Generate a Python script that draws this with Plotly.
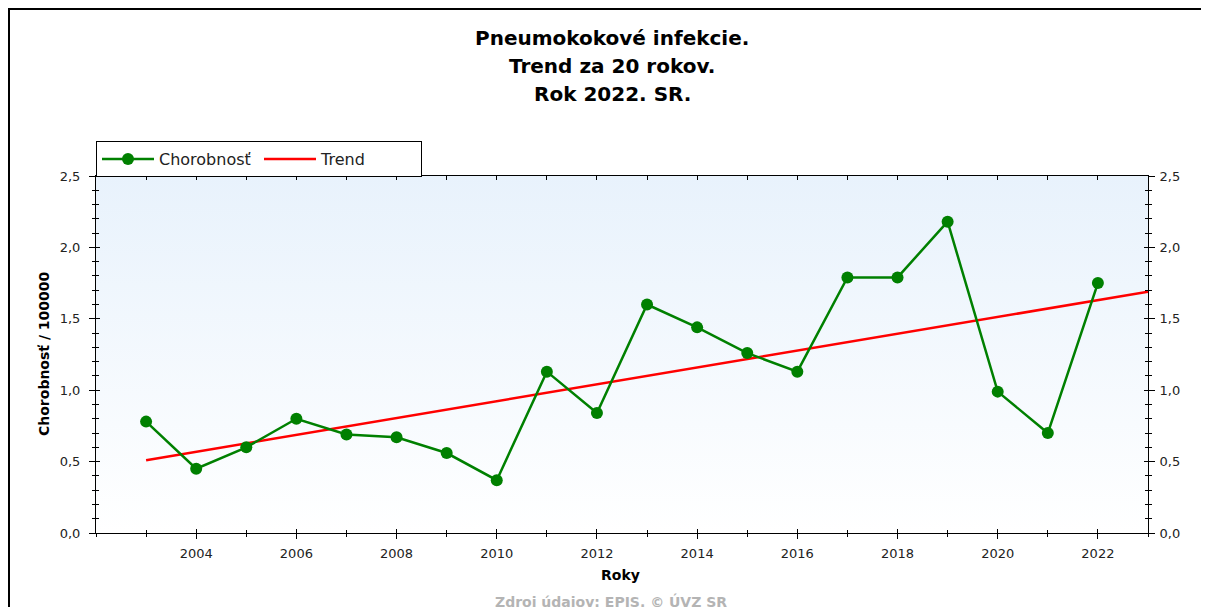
import plotly.graph_objects as go

# ---- data ----
years = [2003, 2004, 2005, 2006, 2007, 2008, 2009, 2010, 2011, 2012,
         2013, 2014, 2015, 2016, 2017, 2018, 2019, 2020, 2021, 2022]
morbidity = [0.78, 0.45, 0.60, 0.80, 0.69, 0.67, 0.56, 0.37, 1.13, 0.84,
             1.60, 1.44, 1.26, 1.13, 1.79, 1.79, 2.18, 0.99, 0.70, 1.75]
trend_years = [2003, 2023]
trend_values = [0.51, 1.69]
x_tick_labels = [2004, 2006, 2008, 2010, 2012, 2014, 2016, 2018, 2020, 2022]
x_range = [2002, 2023]
y_range = [0, 2.5]

series_name = "Chorobnosť"
trend_name = "Trend"
title_lines = ["Pneumokokové infekcie.", "Trend za 20 rokov.", "Rok 2022. SR."]
y_title = "Chorobnosť / 100000"
x_title = "Roky"
source_text = "Zdroj údajov: EPIS. © ÚVZ SR"

FONT = "DejaVu Sans, Liberation Sans, Arial, sans-serif"
OFF = 8  # page body margin of the html page
W, H = 1209 - OFF, 607 - OFF
L, R, T, B = 96 - OFF, 1209 - 1148, 176 - OFF, 607 - 533
PW, PH = W - L - R, H - T - B


def px_x(p):
    """window pixel x -> paper coordinate"""
    return (p - OFF - L) / PW


def px_y(p):
    """window pixel y -> paper coordinate"""
    return (H - B - (p - OFF)) / PH


fig = go.Figure()

# background gradient of the plot area
fig.add_trace(go.Scatter(
    x=[x_range[0], x_range[1], x_range[1], x_range[0], x_range[0]],
    y=[y_range[0], y_range[0], y_range[1], y_range[1], y_range[0]],
    mode="none", fill="toself",
    fillgradient=dict(type="vertical",
                      colorscale=[[0, "#ffffff"], [1, "#e8f2fc"]]),
    hoverinfo="skip", showlegend=False,
))

fig.add_trace(go.Scatter(
    x=trend_years, y=trend_values, name=trend_name, mode="lines",
    line=dict(color="#ff0000", width=2.5), legendrank=2,
))
fig.add_trace(go.Scatter(
    x=years, y=morbidity, name=series_name, mode="lines+markers",
    line=dict(color="#008000", width=2.5),
    marker=dict(color="#008000", size=12, symbol="circle"), legendrank=1,
))

# empty traces so the extra (tick-only / right label) axes get drawn
for xa, ya in [("x2", "y"), ("x3", "y"), ("x", "y2"), ("x", "y3")]:
    fig.add_trace(go.Scatter(x=[], y=[], xaxis=xa, yaxis=ya,
                             showlegend=False, hoverinfo="skip"))

tickfont = dict(family=FONT, size=13, color="#222222")

fig.update_layout(
    width=W, height=H,
    margin=dict(l=L, r=R, t=T, b=B, autoexpand=False),
    paper_bgcolor="white", plot_bgcolor="white",
    separators=", ",
    font=dict(family=FONT, size=13, color="#222222"),
    showlegend=True,
    legend=dict(
        orientation="h", x=0, xanchor="left", y=px_y(141), yanchor="top",
        bordercolor="#000000", borderwidth=1, bgcolor="white",
        font=dict(family=FONT, size=16, color="#222222"),
        entrywidth=95, entrywidthmode="pixels",
        itemwidth=52, traceorder="normal",
    ),
    xaxis=dict(
        range=x_range, tickvals=x_tick_labels, ticks="outside", ticklen=5,
        tickcolor="black", tickwidth=1, tickfont=tickfont,
        ticklabelstandoff=3,
        showline=True, linecolor="black", linewidth=1, mirror=True,
        showgrid=False, zeroline=False,
        minor=dict(dtick=1, tick0=2002, ticks="outside", ticklen=3,
                   tickcolor="black", showgrid=False),
    ),
    xaxis2=dict(
        range=x_range, overlaying="x", anchor="y", side="bottom",
        tickvals=x_tick_labels, ticks="inside", ticklen=4, tickcolor="black",
        showticklabels=False, showgrid=False, zeroline=False,
        minor=dict(dtick=1, tick0=2002, ticks="inside", ticklen=3,
                   tickcolor="black", showgrid=False),
    ),
    xaxis3=dict(
        range=x_range, overlaying="x", anchor="y", side="top",
        dtick=1, tick0=2002, ticks="inside", ticklen=4, tickcolor="black",
        showticklabels=False, showgrid=False, zeroline=False,
    ),
    yaxis=dict(
        range=y_range, dtick=0.5, tick0=0, tickformat=".1f",
        ticks="outside", ticklen=6, tickcolor="black", tickfont=tickfont,
        ticklabelstandoff=6,
        showline=True, linecolor="black", linewidth=1, mirror=True,
        showgrid=False, zeroline=False,
        minor=dict(dtick=0.1, ticks="outside", ticklen=3,
                   tickcolor="black", showgrid=False),
    ),
    yaxis2=dict(
        range=y_range, overlaying="y", anchor="x", side="right",
        dtick=0.5, tick0=0, tickformat=".1f",
        ticks="outside", ticklen=6, tickcolor="black", tickfont=tickfont,
        ticklabelstandoff=2,
        showgrid=False, zeroline=False,
        minor=dict(dtick=0.1, ticks="outside", ticklen=3,
                   tickcolor="black", showgrid=False),
    ),
    yaxis3=dict(
        range=y_range, overlaying="y", anchor="x", side="left",
        dtick=0.5, tick0=0, ticks="inside", ticklen=4, tickcolor="black",
        mirror="ticks", showticklabels=False,
        showgrid=False, zeroline=False,
        minor=dict(dtick=0.1, ticks="inside", ticklen=3,
                   tickcolor="black", showgrid=False),
    ),
)

annotations = []
for i, line in enumerate(title_lines):
    annotations.append(dict(
        text=f"<b>{line}</b>", x=px_x(612), y=px_y(38 + i * 28),
        xref="paper", yref="paper", xanchor="center", yanchor="middle",
        showarrow=False, font=dict(family=FONT, size=20, color="black"),
    ))
annotations.append(dict(
    text=f"<b>{y_title}</b>", x=px_x(44), y=px_y(354), textangle=-90,
    xref="paper", yref="paper", xanchor="center", yanchor="middle",
    showarrow=False, font=dict(family=FONT, size=14, color="black"),
))
annotations.append(dict(
    text=f"<b>{x_title}</b>", x=px_x(620), y=px_y(575),
    xref="paper", yref="paper", xanchor="center", yanchor="middle",
    showarrow=False, font=dict(family=FONT, size=14, color="black"),
))
annotations.append(dict(
    text=f"<b>{source_text}</b>", x=px_x(611), y=px_y(601),
    xref="paper", yref="paper", xanchor="center", yanchor="middle",
    showarrow=False, font=dict(family=FONT, size=14, color="#b4b4b4"),
))
fig.update_layout(annotations=annotations)

# outer frame of the picture
fig.add_shape(type="rect", xref="paper", yref="paper",
              x0=px_x(9), x1=px_x(1260), y0=px_y(9), y1=px_y(660),
              line=dict(color="black", width=2), layer="above")

fig.write_html("out.html")
